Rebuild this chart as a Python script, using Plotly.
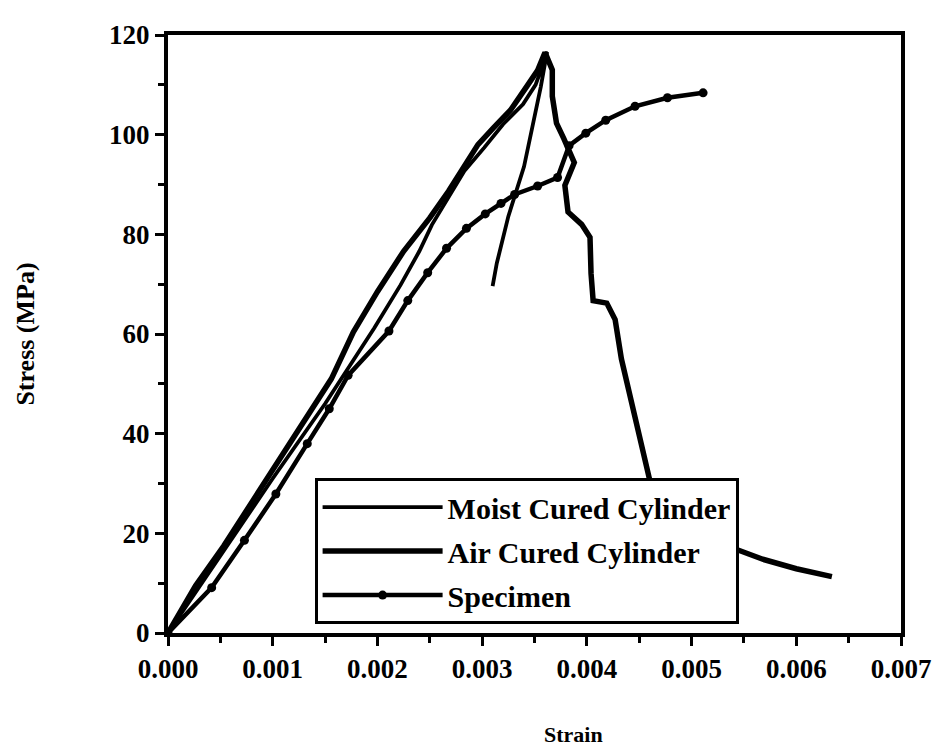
import plotly.graph_objects as go

# ---- data (strain [-], stress [MPa]) ----
moist_strain = [0, 0.0005, 0.0010, 0.0015, 0.00197, 0.00222, 0.00240, 0.00252, 0.00268,
                0.00283, 0.00302, 0.00320, 0.00339, 0.00351, 0.00358, 0.00362,
                0.00356, 0.00340, 0.00325, 0.00314, 0.00310]
moist_stress = [0, 15.5, 31.0, 46.0, 61.2, 69.8, 76.6, 81.9, 87.3,
                92.7, 97.4, 102.1, 106.1, 110.0, 114.0, 116.6,
                109.6, 93.6, 83.6, 74.2, 69.6]

air_strain = [0, 0.000263, 0.000533, 0.000805, 0.00119, 0.00156, 0.00177, 0.00200,
              0.00225, 0.00250, 0.00268, 0.00280, 0.00296, 0.00311, 0.00327, 0.00342,
              0.00353, 0.00360, 0.00367, 0.00367, 0.00371, 0.00378, 0.00388, 0.00379,
              0.00382, 0.00395, 0.00403, 0.00404, 0.00406, 0.00419, 0.00427, 0.00433,
              0.00444, 0.00454, 0.00460, 0.00494, 0.00545, 0.00568, 0.00600, 0.00634]
air_stress = [0, 9.5, 17.5, 26.5, 38.9, 51.0, 60.4, 68.5,
              76.6, 83.3, 88.7, 92.7, 98.0, 101.4, 104.9, 109.5,
              112.9, 116.5, 113.0, 107.7, 102.3, 99.2, 94.4, 89.8,
              84.5, 82.0, 79.4, 72.1, 66.7, 66.2, 62.9, 55.0,
              45.1, 35.2, 30.7, 19.9, 16.6, 14.8, 12.9, 11.3]

spec_strain = [0, 0.000417, 0.00073, 0.00103, 0.00133, 0.00154, 0.00172, 0.00211,
               0.00229, 0.00248, 0.00266, 0.00285, 0.00303, 0.00318, 0.00331, 0.00353,
               0.00372, 0.00383, 0.00399, 0.00418, 0.00446, 0.00477, 0.00511]
spec_stress = [0, 9.1, 18.6, 27.9, 38.0, 45.0, 51.7, 60.6,
               66.7, 72.3, 77.2, 81.2, 84.1, 86.2, 88.0, 89.7,
               91.4, 97.8, 100.3, 102.9, 105.7, 107.4, 108.4]

x_ticks = [0.000, 0.001, 0.002, 0.003, 0.004, 0.005, 0.006, 0.007]
y_ticks = [0, 20, 40, 60, 80, 100, 120]

FONT = "Liberation Serif"

fig = go.Figure()
fig.add_trace(go.Scatter(x=moist_strain, y=moist_stress, mode="lines",
                         name="Moist Cured Cylinder", legendgroup="g1",
                         line=dict(color="black", width=3.8)))
fig.add_trace(go.Scatter(x=air_strain, y=air_stress, mode="lines",
                         name="Air Cured Cylinder", legendgroup="g2",
                         line=dict(color="black", width=5.5)))
fig.add_trace(go.Scatter(x=spec_strain, y=spec_stress, mode="lines+markers",
                         name="Specimen", legendgroup="g3",
                         line=dict(color="black", width=4.5),
                         marker=dict(color="black", size=9)))

axis_common = dict(
    showline=True, linewidth=4, linecolor="black", mirror=True,
    showgrid=False, zeroline=False,
    ticks="outside", ticklen=9, tickwidth=3, tickcolor="black",
    tickfont=dict(family=FONT, size=27, color="black", weight="bold"),
)

fig.update_layout(
    width=935, height=744,
    margin=dict(l=160, r=39, t=22, b=119),
    plot_bgcolor="white", paper_bgcolor="white",
    font=dict(family=FONT, color="black"),
    xaxis=dict(range=[0, 0.007], tickvals=x_ticks, tickformat=".3f",
               minor=dict(ticks="outside", ticklen=6, tickwidth=3, dtick=0.0005,
                          tickcolor="black", showgrid=False),
               **axis_common),
    yaxis=dict(range=[0, 120], tickvals=y_ticks,
               minor=dict(ticks="outside", ticklen=6, tickwidth=3, dtick=10,
                          tickcolor="black", showgrid=False),
               title=dict(text="Stress (MPa)", standoff=68,
                          font=dict(family=FONT, size=26, color="black", weight="bold")),
               **axis_common),
    annotations=[dict(text="Strain", xref="paper", yref="paper", x=0.553, y=-0.169,
                      xanchor="center", yanchor="middle", showarrow=False,
                      font=dict(family=FONT, size=22, color="black", weight="bold"))],
    showlegend=True,
    legend=dict(x=0.2, y=0.259, xanchor="left", yanchor="top",
                bgcolor="white", bordercolor="black", borderwidth=3,
                font=dict(family=FONT, size=30, color="black", weight="bold"),
                itemwidth=120, traceorder="grouped", tracegroupgap=2),
)

fig.write_html("out.html")
